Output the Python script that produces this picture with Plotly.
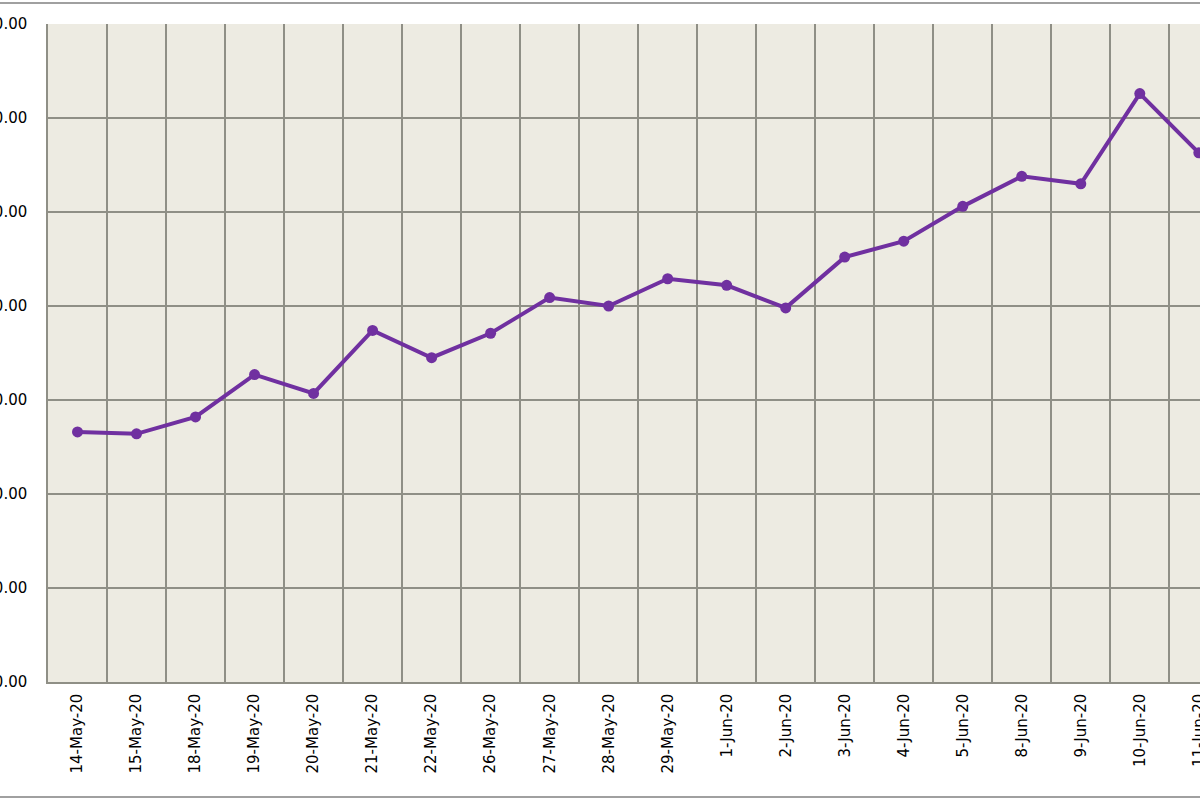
import plotly.graph_objects as go

# Data
dates = ['14-May-20', '15-May-20', '18-May-20', '19-May-20', '20-May-20', '21-May-20',
         '22-May-20', '26-May-20', '27-May-20', '28-May-20', '29-May-20', '1-Jun-20',
         '2-Jun-20', '3-Jun-20', '4-Jun-20', '5-Jun-20', '8-Jun-20', '9-Jun-20',
         '10-Jun-20', '11-Jun-20']
price = [76.6, 76.4, 78.2, 82.7, 80.7, 87.4, 84.5, 87.1, 90.9, 90.0,
         92.9, 92.2, 89.8, 95.2, 96.9, 100.6, 103.8, 103.0, 112.6, 106.3]

y_ticks = [50, 60, 70, 80, 90, 100, 110, 120]

GRID = '#8f8f86'
PURPLE = '#7030A0'

fig = go.Figure()
fig.add_trace(go.Scatter(x=dates, y=price, mode='lines+markers',
                         line=dict(color=PURPLE, width=4),
                         marker=dict(color=PURPLE, size=11),
                         showlegend=False))

fig.update_xaxes(type='category', tickson='boundaries', range=[-0.5, len(dates) - 0.98],
                 tickangle=-90, showgrid=True, gridcolor=GRID, gridwidth=1.5,
                 showline=True, linecolor=GRID, linewidth=1.5, ticks='',
                 ticklabelstandoff=4,
                 tickfont=dict(family='DejaVu Sans', size=15, color='black'),
                 automargin=False)
fig.update_yaxes(range=[y_ticks[0], y_ticks[-1]], tickvals=y_ticks,
                 ticktext=['%.2f' % v for v in y_ticks],
                 showgrid=True, gridcolor=GRID, gridwidth=1.5, zeroline=False,
                 showline=True, linecolor=GRID, linewidth=1.5, ticks='',
                 ticklabelstandoff=16,
                 tickfont=dict(family='DejaVu Sans', size=15, color='black'),
                 automargin=False)

# outer chart border (top and bottom edges visible in the crop)
fig.add_shape(type='line', xref='paper', yref='paper', x0=-0.1, x1=1.1,
              y0=1 + 21 / 658, y1=1 + 21 / 658, line=dict(color='#a0a0a0', width=2))
fig.add_shape(type='line', xref='paper', yref='paper', x0=-0.1, x1=1.1,
              y0=-115 / 658, y1=-115 / 658, line=dict(color='#a0a0a0', width=2))

fig.update_layout(width=1200, height=800,
                  margin=dict(l=48, r=0, t=24, b=118, autoexpand=False),
                  paper_bgcolor='white', plot_bgcolor='#EDEBE2')

fig.write_html("out.html", config={'displayModeBar': False},
               post_script="document.body.style.margin='0px';")
